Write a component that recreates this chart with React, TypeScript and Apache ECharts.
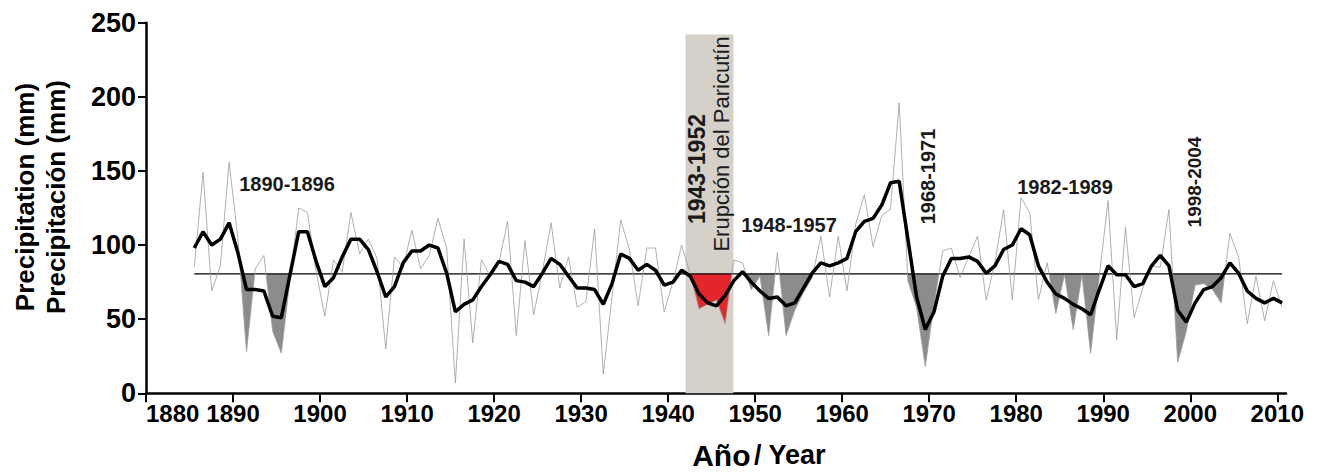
import React, { useEffect, useRef } from "react";
import * as echarts from "echarts";

// ---- Data ----
const FIRST_YEAR = 1885;
const LAST_YEAR = 2010;
const YEARS: number[] = Array.from({ length: LAST_YEAR - FIRST_YEAR + 1 }, (_, i) => FIRST_YEAR + i);

// annual precipitation (thin grey line), 1885-2010
const ANNUAL: number[] = [
  85, 149, 69, 86, 156,
  105, 28, 84, 93, 42, 27, 77, 125, 122, 82,
  52, 90, 82, 122, 94, 104, 91, 30, 92, 85,
  110, 84, 93, 118, 98, 7, 104, 34, 90, 79,
  88, 116, 39, 103, 53, 82, 115, 71, 92, 58,
  62, 111, 13, 65, 117, 97, 59, 98, 98, 55,
  75, 100, 80, 57, 60, 63, 47, 90, 88, 70,
  79, 39, 95, 39, 56, 68, 78, 106, 65, 106,
  69, 114, 134, 99, 120, 124, 196, 76, 58, 18,
  60, 96, 98, 78, 92, 106, 63, 88, 124, 63,
  132, 122, 63, 88, 54, 80, 43, 80, 27, 79,
  130, 36, 112, 51, 71, 86, 85, 124, 21, 42,
  73, 74, 70, 61, 108, 92, 47, 79, 49, 76, 58,
];

// smoothed precipitation (thick black line), 1885-2010
const SMOOTHED: number[] = [
  98, 109, 100, 104, 115,
  95, 70, 70, 69, 52, 51, 80, 109, 109, 89,
  72, 78, 92, 104, 104, 97, 82, 65, 72, 88,
  96, 96, 100, 98, 81, 55, 60, 63, 72, 80,
  89, 87, 76, 75, 72, 81, 91, 87, 79, 71,
  71, 70, 60, 74, 94, 91, 83, 87, 83, 73,
  75, 83, 79, 67, 61, 59, 66, 76, 82, 75,
  69, 64, 65, 59, 61, 71, 81, 88, 86, 88,
  91, 109, 116, 118, 127, 142, 143, 104, 65, 43,
  55, 79, 91, 91, 92, 89, 81, 86, 97, 100,
  111, 107, 86, 75, 67, 64, 60, 57, 53, 70,
  86, 80, 80, 72, 74, 86, 93, 86, 56, 48,
  61, 70, 72, 78, 88, 81, 69, 64, 61, 64, 61,
];

const MEAN = 80.5;

// shaded deficit periods
const FILL_FROM: number[] = [1890, 1948, 1966, 1983, 1997, 1942];
const FILL_TO: number[] = [1897, 1957, 1971, 1990, 2004, 1947];
const FILL_KIND: string[] = ["drought", "drought", "drought", "drought", "drought", "eruption"];

// eruption band
const BAND_FROM = 1942;
const BAND_TO = 1947.5;
const BAND_TOP = 242;

const X_TICKS: number[] = [1880, 1890, 1900, 1910, 1920, 1930, 1940, 1950, 1960, 1970, 1980, 1990, 2000, 2010];

// ---- Styling ----
const XOFF = 0.55; // points plotted within their year
const KIND_COLOR: Record<string, string> = { drought: "#8c8c8c", eruption: "#e3262b" };
const SANS = "'Liberation Sans', Arial, sans-serif";

export default function App() {
  const ref = useRef<HTMLDivElement>(null);

  useEffect(() => {
    if (!ref.current) return;
    const chart = echarts.init(ref.current, undefined, { renderer: "svg" });

    const thinData = YEARS.map((y, i) => [y + XOFF, ANNUAL[i]]);
    const thickData = YEARS.map((y, i) => [y + XOFF, SMOOTHED[i]]);
    const fillData = FILL_FROM.map((f, i) => [f + XOFF, FILL_TO[i] + XOFF, i]);

    const txt = (
      text: string,
      x: number,
      y: number,
      fontSize: number,
      opts: { rot?: boolean; weight?: string } = {}
    ) => ({
      type: "text",
      x,
      y,
      z: 100,
      rotation: opts.rot ? Math.PI / 2 : 0,
      style: {
        text,
        fontSize,
        fontWeight: opts.weight || "bold",
        fontFamily: SANS,
        fill: "#1a1a1a",
        align: "center",
        verticalAlign: "middle",
      },
    });

    const option: any = {
      animation: false,
      grid: { left: 146, right: 41, top: 22.7, bottom: 79.7, containLabel: false },
      xAxis: {
        type: "value",
        min: 1880,
        max: 2011,
        interval: 10,
        axisLine: { show: true, onZero: false, lineStyle: { color: "#000", width: 2.5 } },
        axisTick: { show: true, length: 9, customValues: X_TICKS, lineStyle: { color: "#000", width: 2 } },
        axisLabel: {
          customValues: X_TICKS,
          formatter: (v: number) => String(v),
          alignMinLabel: "left",
          margin: 11,
          fontSize: 24,
          lineHeight: 18,
          fontWeight: "bold",
          fontFamily: SANS,
          color: "#000",
        },
        splitLine: { show: false },
      },
      yAxis: {
        type: "value",
        min: 0,
        max: 250,
        interval: 50,
        axisLine: { show: true, lineStyle: { color: "#000", width: 2.5 } },
        axisTick: { show: true, length: 8, lineStyle: { color: "#000", width: 2 } },
        axisLabel: { margin: 10, fontSize: 27, lineHeight: 20, fontWeight: "bold", fontFamily: SANS, color: "#000" },
        splitLine: { show: false },
      },
      series: [
        {
          type: "custom",
          name: "deficit",
          z: 2,
          data: fillData,
          encode: { x: [0, 1] },
          renderItem: (params: any, api: any) => {
            const k = params.dataIndex;
            const i0 = YEARS.indexOf(FILL_FROM[k]);
            const i1 = YEARS.indexOf(FILL_TO[k]);
            const pts: number[][] = [];
            pts.push(api.coord([YEARS[i0] + XOFF, MEAN]));
            for (let i = i0; i <= i1; i++) {
              const v = ANNUAL[i];
              pts.push(api.coord([YEARS[i] + XOFF, Math.min(v, MEAN)]));
              if (i < i1) {
                const w = ANNUAL[i + 1];
                if ((v - MEAN) * (w - MEAN) < 0) {
                  const t = (v - MEAN) / (v - w);
                  pts.push(api.coord([YEARS[i] + XOFF + t, MEAN]));
                }
              }
            }
            pts.push(api.coord([YEARS[i1] + XOFF, MEAN]));
            return {
              type: "polygon",
              shape: { points: pts },
              style: { fill: KIND_COLOR[FILL_KIND[k]], stroke: null },
            };
          },
        },
        {
          type: "line",
          name: "mean",
          z: 3,
          symbol: "none",
          data: [
            [FIRST_YEAR + XOFF, MEAN],
            [LAST_YEAR + XOFF, MEAN],
          ],
          lineStyle: { color: "#000", width: 1.3 },
          markArea: {
            silent: true,
            z: 1,
            itemStyle: { color: "#d5d1c9" },
            data: [[{ xAxis: BAND_FROM, yAxis: 0 }, { xAxis: BAND_TO, yAxis: BAND_TOP }]],
          },
        },
        {
          type: "line",
          name: "annual",
          z: 4,
          symbol: "none",
          data: thinData,
          lineStyle: { color: "#9c9c9c", width: 0.8 },
        },
        {
          type: "line",
          name: "smoothed",
          z: 5,
          symbol: "none",
          data: thickData,
          lineStyle: { color: "#000", width: 3.5 },
        },
      ],
      graphic: [
        {
          type: "text", x: 25, y: 197, z: 100, rotation: Math.PI / 2,
          style: { text: "Precipitation (mm)", fontSize: 26, fontWeight: "bold", fontFamily: SANS, fill: "#000", align: "center", verticalAlign: "middle" },
        },
        {
          type: "text", x: 56, y: 197, z: 100, rotation: Math.PI / 2,
          style: { text: "Precipitación (mm)", fontSize: 26, fontWeight: "bold", fontFamily: SANS, fill: "#000", align: "center", verticalAlign: "middle" },
        },
        {
          type: "text", x: 759, y: 455, z: 100,
          style: {
            text: "{a|Año} {b|/ Year}",
            align: "center", verticalAlign: "middle",
            rich: {
              a: { fontSize: 30, fontWeight: "bold", fontFamily: SANS, fill: "#000" },
              b: { fontSize: 27, fontWeight: "bold", fontFamily: SANS, fill: "#000" },
            },
          },
        },
        txt("1890-1896", 287, 184, 20),
        txt("1948-1957", 789, 225, 20),
        txt("1982-1989", 1065, 187, 20),
        txt("1968-1971", 927.5, 176.5, 20, { rot: true }),
        txt("1998-2004", 1194.5, 182, 19, { rot: true }),
        txt("1943-1952", 696.5, 169, 23, { rot: true }),
        txt("Erupción del Paricutín", 721.5, 144, 22, { rot: true, weight: "normal" }),
      ],
    };

    chart.setOption(option);
    return () => chart.dispose();
  }, []);

  return (
    <div
      ref={ref}
      style={{ position: "fixed", left: 0, top: 0, width: 1327, height: 473, background: "#fff" }}
    />
  );
}
